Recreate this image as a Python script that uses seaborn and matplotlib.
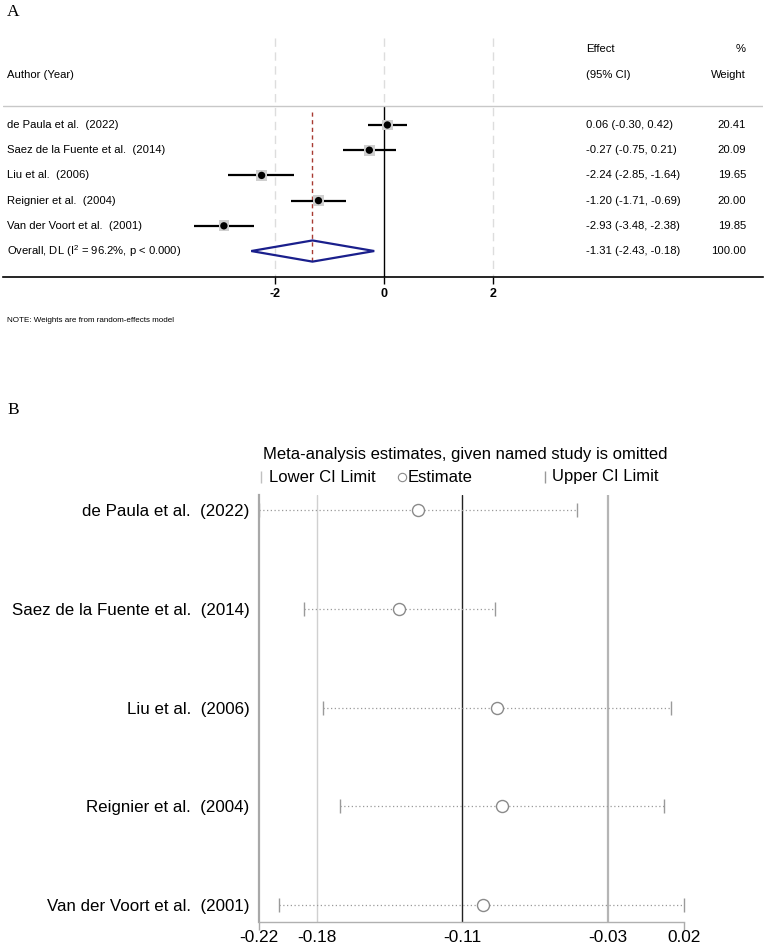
import numpy as np
import pandas as pd
import matplotlib
matplotlib.use("Agg")
import matplotlib.pyplot as plt
import seaborn as sns

sns.set_style("white")
plt.rcParams["font.family"] = ["Liberation Sans", "DejaVu Sans"]
plt.rcParams["mathtext.default"] = "regular"
plt.rcParams["text.color"] = "black"
plt.rcParams["xtick.color"] = "black"
plt.rcParams["ytick.color"] = "black"

# ---- panel A: forest plot data ----
studies = ["de Paula et al.  (2022)", "Saez de la Fuente et al.  (2014)",
           "Liu et al.  (2006)", "Reignier et al.  (2004)",
           "Van der Voort et al.  (2001)"]
effect = [0.06, -0.27, -2.24, -1.20, -2.93]
ci_low = [-0.30, -0.75, -2.85, -1.71, -3.48]
ci_high = [0.42, 0.21, -1.64, -0.69, -2.38]
weight = [20.41, 20.09, 19.65, 20.00, 19.85]
overall_label = r"Overall, DL (I$^2$ = 96.2%, p < 0.000)"
overall = [-1.31, -2.43, -0.18]  # estimate, lower, upper
a_ticks = [-2, 0, 2]

# ---- panel B: leave-one-out data ----
loo_est = [-0.1290, -0.1390, -0.0862, -0.0831, -0.0934]
loo_low = [-0.2150, -0.1906, -0.1805, -0.1711, -0.2042]
loo_high = [-0.0428, -0.0873, 0.0081, 0.0047, 0.0154]
b_ticks = [-0.2150, -0.1838, -0.1050, -0.0260, 0.0154]
b_tick_labels = ["-0.22", "-0.18", "-0.11", "-0.03", "0.02"]

W, H = 767, 949
fig = plt.figure(figsize=(W / 100, H / 100), dpi=100)


def px_axes(left, top, right, bottom):
    return fig.add_axes([left / W, 1 - bottom / H, (right - left) / W, (bottom - top) / H])


# ================= Panel A =================
axA = px_axes(3, 38, 763, 277)
rows = np.arange(1, len(studies) + 1)
dfA = pd.DataFrame({"study": studies, "es": effect, "lo": ci_low, "hi": ci_high,
                    "w": weight, "row": rows})

axA.set_xlim(-6.97, 6.93)
axA.set_ylim(7.03, -2.45)

# reference lines
for t in a_ticks:
    if t == 0:
        axA.vlines(t, -2.45, 0.25, color="#dddddd", lw=1, ls=(0, (6, 4)))
        axA.vlines(t, 0.25, 7.03, color="black", lw=1)
    else:
        axA.vlines(t, -2.45, 7.03, color="#dddddd", lw=1, ls=(0, (6, 4)))
axA.axhline(0.25, color="#c8c8c8", lw=1)
axA.vlines(overall[0], 0.48, 6.44, color="#a83a32", lw=1, ls=(0, (3, 2.5)))

# CIs, weight boxes and points
axA.hlines(dfA["row"], dfA["lo"], dfA["hi"], color="black", lw=1.6)
axA.scatter(dfA["es"], dfA["row"], marker="s", s=dfA["w"] * 3.0, color="#cfcfcf",
            edgecolor="none", zorder=3)
sns.scatterplot(data=dfA, x="es", y="row", color="black", s=28, edgecolor="none",
                ax=axA, zorder=4, legend=False)

# overall diamond
orow = len(studies) + 1
axA.fill([overall[1], overall[0], overall[2], overall[0]],
         [orow, orow - 0.42, orow, orow + 0.42],
         facecolor="none", edgecolor="#1a1f8c", lw=1.6, zorder=4)

# text columns
fs = 8.1
tA = axA.get_yaxis_transform()
col_author, col_eff, col_w = 4 / 760, 583 / 760, 743 / 760
axA.text(col_author, -1, "Author (Year)", transform=tA, fontsize=fs, va="center")
axA.text(col_eff, -2, "Effect", transform=tA, fontsize=fs, va="center")
axA.text(col_eff, -1, "(95% CI)", transform=tA, fontsize=fs, va="center")
axA.text(col_w, -2, "%", transform=tA, fontsize=fs, va="center", ha="right")
axA.text(col_w, -1, "Weight", transform=tA, fontsize=fs, va="center", ha="right")
for r, s, e, l, h, w in zip(rows, studies, effect, ci_low, ci_high, weight):
    axA.text(col_author, r, s, transform=tA, fontsize=fs, va="center")
    axA.text(col_eff, r, f"{e:.2f} ({l:.2f}, {h:.2f})", transform=tA, fontsize=fs, va="center")
    axA.text(col_w, r, f"{w:.2f}", transform=tA, fontsize=fs, va="center", ha="right")
axA.text(col_author, orow, overall_label, transform=tA, fontsize=fs, va="center")
axA.text(col_eff, orow, f"{overall[0]:.2f} ({overall[1]:.2f}, {overall[2]:.2f})",
         transform=tA, fontsize=fs, va="center")
axA.text(col_w, orow, "100.00", transform=tA, fontsize=fs, va="center", ha="right")

axA.set_xticks(a_ticks)
axA.set_xticklabels([str(t) for t in a_ticks], fontsize=9, fontweight="bold")
axA.tick_params(axis="x", length=5, width=1, color="black", pad=3, direction="out",
                bottom=True)
axA.set_yticks([])
axA.set_xlabel("")
axA.set_ylabel("")
for side in ["top", "left", "right"]:
    axA.spines[side].set_visible(False)
axA.spines["bottom"].set_color("black")
axA.spines["bottom"].set_linewidth(1.2)

fig.text(7 / W, 1 - 320 / H, "NOTE: Weights are from random-effects model",
         fontsize=5.8, va="center")
fig.text(7 / W, 1 - 12 / H, "A", fontsize=12.5, va="center",
         family=["Liberation Serif", "DejaVu Serif"])
fig.text(7 / W, 1 - 410 / H, "B", fontsize=12.5, va="center",
         family=["Liberation Serif", "DejaVu Serif"])

# ================= Panel B =================
axB = px_axes(259, 495, 684, 922)
dfB = pd.DataFrame({"study": studies, "est": loo_est, "lo": loo_low, "hi": loo_high,
                    "row": rows})
axB.set_xlim(b_ticks[0], b_ticks[-1])
axB.set_ylim(5.172, 0.848)

axB.axvline(b_ticks[1], color="#d0d0d0", lw=1)
axB.axvline(b_ticks[2], color="#222222", lw=1)
axB.axvline(b_ticks[3], color="#b5b5b5", lw=1.6)

axB.hlines(dfB["row"], dfB["lo"], dfB["hi"], color="#9a9a9a", lw=0.9,
           ls=(0, (1, 2)), clip_on=False)
axB.scatter(dfB["lo"], dfB["row"], marker="|", s=110, color="#9a9a9a", lw=1, clip_on=False)
axB.scatter(dfB["hi"], dfB["row"], marker="|", s=110, color="#9a9a9a", lw=1, clip_on=False)
sns.scatterplot(data=dfB, x="est", y="row", marker="o", s=75, facecolor="white",
                edgecolor="#8a8a8a", linewidth=1, ax=axB, zorder=4, legend=False)

axB.set_yticks(rows)
axB.set_yticklabels(studies, fontsize=12.2)
axB.tick_params(axis="y", length=0, pad=7)
axB.set_xticks(b_ticks)
axB.set_xticklabels(b_tick_labels, fontsize=12.4)
axB.tick_params(axis="x", length=6, width=1, color="#aaaaaa", pad=0, bottom=True)
for i, tk in enumerate(axB.xaxis.get_major_ticks()):
    if 0 < i < len(b_ticks) - 1:
        tk.tick1line.set_visible(False)
axB.set_xlabel("")
axB.set_ylabel("")
for side in ["top", "right"]:
    axB.spines[side].set_visible(False)
axB.spines["left"].set_color("#a8a8a8")
axB.spines["left"].set_linewidth(1.6)
axB.spines["bottom"].set_color("#b0b0b0")
axB.spines["bottom"].set_linewidth(1)

# title and legend keys
def fx(px):
    return (px - 259) / 425

def fy(py):
    return (922 - py) / 427

axB.text(fx(263), fy(455), "Meta-analysis estimates, given named study is omitted",
         transform=axB.transAxes, fontsize=12, va="center")
leg_y = fy(477)
axB.plot([fx(261)], [leg_y], marker="|", ms=8, color="#c0c0c0", transform=axB.transAxes,
         clip_on=False)
axB.text(fx(269), leg_y, "Lower CI Limit", transform=axB.transAxes, fontsize=12, va="center")
axB.plot([fx(402)], [leg_y], marker="o", ms=6, mfc="white", mec="#8a8a8a", mew=0.8,
         transform=axB.transAxes, clip_on=False)
axB.text(fx(408), leg_y, "Estimate", transform=axB.transAxes, fontsize=12, va="center")
axB.plot([fx(545)], [leg_y], marker="|", ms=8, color="#999999", transform=axB.transAxes,
         clip_on=False)
axB.text(fx(552), leg_y, "Upper CI Limit", transform=axB.transAxes, fontsize=12, va="center")

fig.savefig("out.png", dpi=100)
